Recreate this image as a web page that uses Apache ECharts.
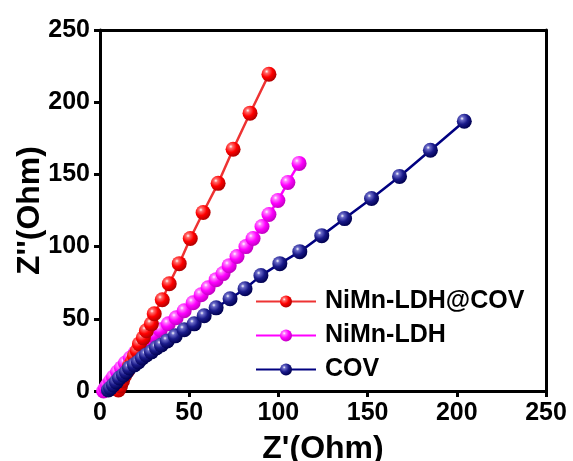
<!DOCTYPE html>
<html>
<head>
<meta charset="utf-8">
<script src="https://cdn.jsdelivr.net/npm/echarts@6/dist/echarts.min.js"></script>
<style>
  html, body { margin: 0; padding: 0; background: #fff; }
  #chart { width: 573px; height: 461px; }
</style>
</head>
<body>
<div id="chart"></div>
<script>
// values, [Z', Z'']
const hybridPts = [
  [10.3, 0.7], [11.5, 3.5], [12.6, 6.9], [13.7, 10.4], [15.4, 13.9], [16.5, 17.4],
  [18.2, 20.8], [19.3, 24.3], [20.9, 27.8], [22.1, 32.6], [24.3, 36.8], [26.0, 41.7],
  [28.8, 46.5], [30.4, 53.5], [34.9, 63.2], [38.8, 74.3], [44.4, 88.2], [50.6, 105.6],
  [57.8, 123.6], [66.2, 143.8], [74.6, 167.4], [84.1, 192.4], [94.7, 219.4]
];
const ldhPts = [
  [2.0, 0.0], [3.1, 2.1], [4.2, 4.2], [5.9, 6.9], [7.5, 9.7], [9.8, 13.2], [12.0, 16.0],
  [14.2, 19.4], [17.0, 22.9], [19.8, 26.4], [23.2, 30.6], [26.5, 34.7], [29.9, 38.9],
  [33.8, 42.4], [38.3, 46.5], [42.7, 50.7], [47.2, 55.6], [52.2, 61.1], [56.7, 66.7],
  [60.6, 71.5], [65.1, 77.1], [69.0, 81.3], [72.4, 86.8], [76.8, 93.1], [81.8, 100.0],
  [85.8, 105.6], [90.8, 113.9], [94.7, 122.2], [99.7, 131.9], [105.3, 144.4], [111.6, 157.6]
];
const covPts = [
  [4.7, 0.7], [5.9, 2.1], [7.5, 4.2], [9.2, 6.3], [10.9, 9.0], [13.1, 11.1], [14.8, 13.2],
  [16.5, 16.0], [19.3, 18.1], [21.5, 20.1], [23.7, 22.9], [26.0, 25.0], [28.8, 27.1],
  [31.6, 29.9], [34.4, 31.9], [37.7, 34.7], [42.2, 38.2], [47.2, 42.4], [52.8, 46.5],
  [58.4, 52.1], [65.1, 57.6], [72.9, 63.9], [81.3, 70.8], [90.2, 79.9], [100.8, 88.2],
  [112.0, 96.5], [124.3, 107.6], [137.1, 119.4], [152.2, 133.3], [167.9, 148.6],
  [185.2, 166.7], [204.2, 186.8]
];
const seriesNames = ["NiMn-LDH@COV", "NiMn-LDH", "COV"];
const axisTicks = [0, 50, 100, 150, 200, 250];

const font = "Liberation Sans, Arial, sans-serif";
const chart = echarts.init(document.getElementById("chart"));

const ball = (light, base, dark) => new echarts.graphic.RadialGradient(0.35, 0.32, 0.7, [
  { offset: 0, color: "#ffffff" },
  { offset: 0.18, color: light },
  { offset: 0.55, color: base },
  { offset: 1, color: dark }
]);

const mkSeries = (name, pts, lineColor, ballColor, z) => ({
  name: name,
  type: "line",
  data: pts,
  symbol: "circle",
  symbolSize: 15,
  z: z,
  lineStyle: { color: lineColor, width: 2.5 },
  itemStyle: { color: ballColor },
  emphasis: { disabled: true },
  animation: false
});

const axisBase = {
  min: 0,
  max: 250,
  interval: 50,
  axisLine: { show: true, lineStyle: { color: "#000", width: 3 } },
  axisTick: { show: true, inside: false, length: 6, lineStyle: { color: "#000", width: 3 } },
  axisLabel: {
    color: "#000", fontSize: 25, fontWeight: "bold", fontFamily: font, margin: 10,
    formatter: v => (axisTicks.indexOf(v) >= 0 ? String(v) : "")
  },
  splitLine: { show: false }
};
const frameAxis = {
  min: 0, max: 250, interval: 50,
  axisLine: { show: true, onZero: false, lineStyle: { color: "#000", width: 3 } },
  axisTick: { show: false },
  axisLabel: { show: false },
  splitLine: { show: false }
};

chart.setOption({
  backgroundColor: "#fff",
  animation: false,
  grid: { left: 100, right: 27, top: 30, bottom: 70, containLabel: false, outerBoundsMode: "none" },
  xAxis: [
    Object.assign({}, axisBase, {
      type: "value",
      position: "bottom",
      name: "Z'(Ohm)",
      nameLocation: "middle",
      nameGap: 42,
      nameTextStyle: { color: "#000", fontSize: 32, fontWeight: "bold", fontFamily: font }
    }),
    Object.assign({}, frameAxis, { type: "value", position: "top" })
  ],
  yAxis: [
    Object.assign({}, axisBase, {
      type: "value",
      position: "left",
      name: "Z''(Ohm)",
      nameLocation: "middle",
      nameGap: 54,
      nameMoveOverlap: false,
      nameTextStyle: { color: "#000", fontSize: 32, fontWeight: "bold", fontFamily: font }
    }),
    Object.assign({}, frameAxis, { type: "value", position: "right" })
  ],
  legend: {
    left: 250,
    top: 284,
    orient: "vertical",
    itemWidth: 60,
    itemHeight: 15,
    itemGap: 9,
    data: seriesNames,
    textStyle: { color: "#000", fontSize: 25, fontWeight: "bold", fontFamily: font, padding: [0, 0, 0, 4] }
  },
  series: [
    mkSeries(seriesNames[1], ldhPts, "#ff00ff", ball("#ff7cff", "#ff00ff", "#c000c0"), 2),
    mkSeries(seriesNames[0], hybridPts, "#ee3333", ball("#ff6a6a", "#ff0000", "#b00000"), 3),
    mkSeries(seriesNames[2], covPts, "#000080", ball("#6a6ac8", "#1a1a8a", "#000050"), 4)
  ]
});
</script>
</body>
</html>
